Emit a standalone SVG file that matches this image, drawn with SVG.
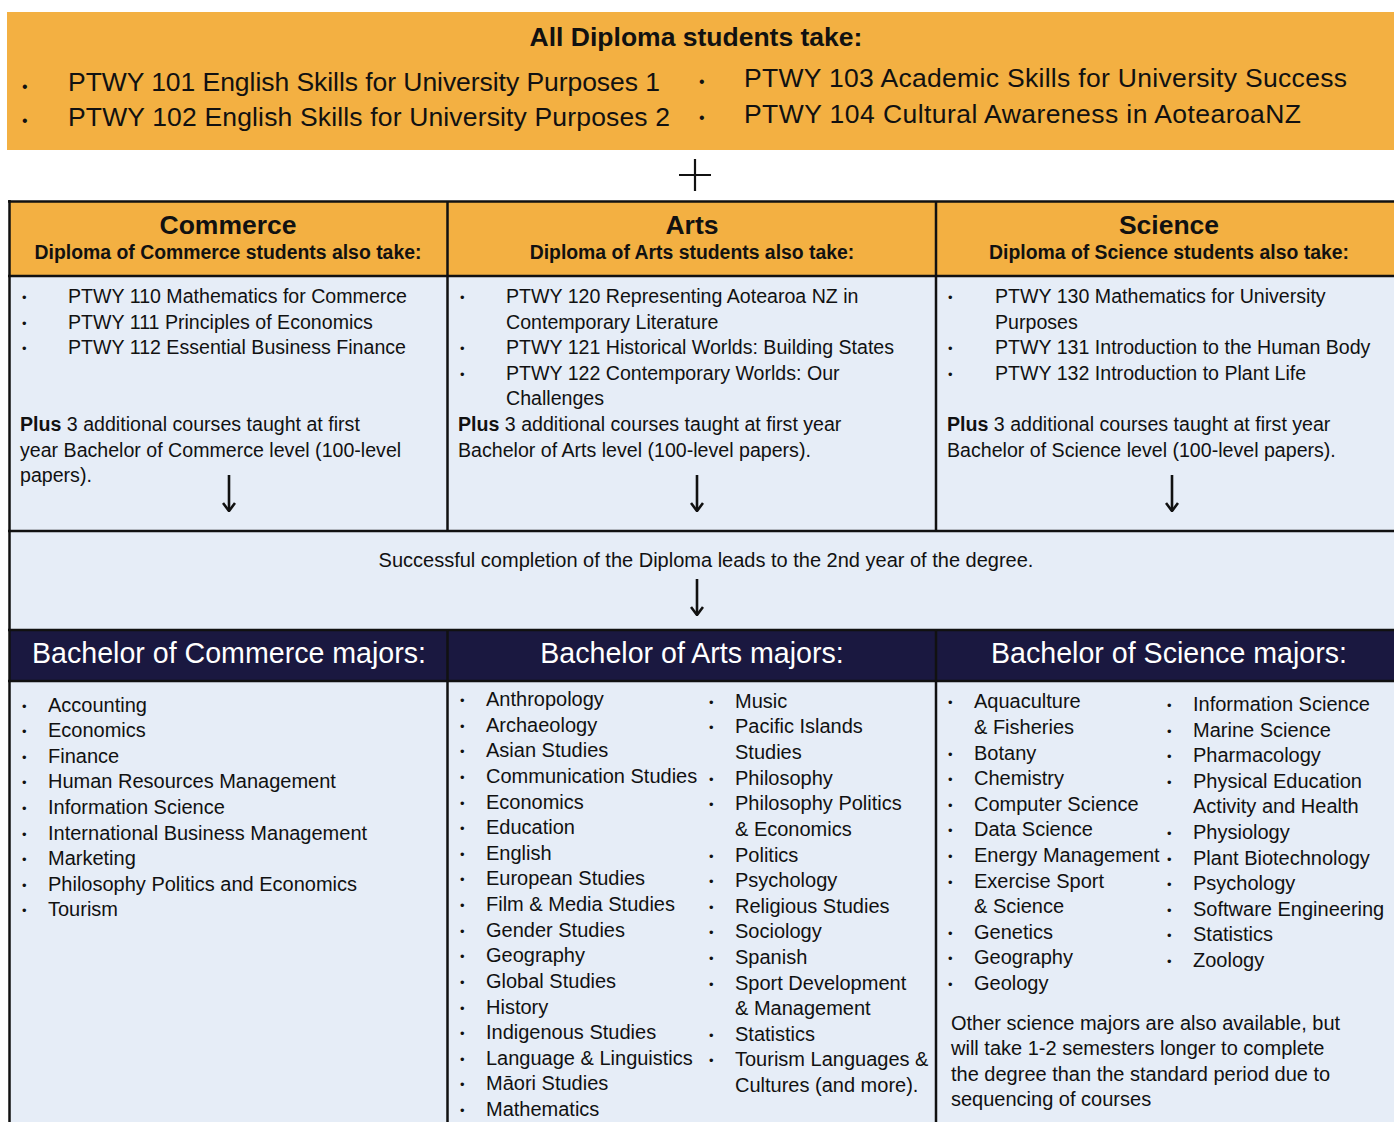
<svg xmlns="http://www.w3.org/2000/svg" width="1394" height="1122" viewBox="0 0 1394 1122">
<defs>
<style>
text{font-family:"Liberation Sans",Arial,sans-serif;fill:#111}
.banner{font-size:26.5px}
.btitle{font-size:26.5px;font-weight:bold}
.h1{font-size:26.5px;font-weight:bold;text-anchor:middle}
.h2{font-size:19.4px;font-weight:bold;text-anchor:middle}
.t{font-size:20px}
.c{font-size:19.6px}
.bul{font-size:13px}
.bbul{font-size:16px}
.maj{font-size:28.6px;fill:#fff;text-anchor:middle}
.mid{font-size:20px;text-anchor:middle}
.orange{fill:#F3B042}
.light{fill:#E6EDF7}
.navy{fill:#1A1840}
.grid{stroke:#111;stroke-width:2.5;fill:none}
.arrow{stroke:#111;stroke-width:2.6;fill:none;stroke-linecap:butt}
</style>
<marker id="ah" viewBox="0 0 10 14" refX="9" refY="7" markerWidth="10" markerHeight="14" markerUnits="userSpaceOnUse" orient="auto">
<path d="M1,1 L9,7 L1,13" fill="none" stroke="#111" stroke-width="2.6"/>
</marker>
</defs>
<rect width="1394" height="1122" fill="#fff"/>

<g id="banner">
<rect x="7" y="12" width="1387" height="138" class="orange"/>
<text x="696" y="46" class="btitle" text-anchor="middle">All Diploma students take:</text>
<text x="22" y="92" class="bbul">•</text>
<text x="68" y="91" class="banner" textLength="592">PTWY 101 English Skills for University Purposes 1</text>
<text x="22" y="126" class="bbul">•</text>
<text x="68" y="126" class="banner" textLength="602">PTWY 102 English Skills for University Purposes 2</text>
<text x="699" y="87" class="bbul">•</text>
<text x="744" y="87" class="banner" textLength="603">PTWY 103 Academic Skills for University Success</text>
<text x="699" y="123" class="bbul">•</text>
<text x="744" y="123" class="banner" textLength="557">PTWY 104 Cultural Awareness in AotearoaNZ</text>
</g>

<g id="plus">
<path d="M679,175 H711 M695,159 V191" stroke="#111" stroke-width="2.2"/>
</g>

<g id="table-bg">
<rect x="9" y="201" width="1385" height="75" class="orange"/>
<rect x="9" y="276" width="1385" height="354" class="light"/>
<rect x="9" y="630" width="1385" height="51" class="navy"/>
<rect x="9" y="681" width="1385" height="441" class="light"/>
</g>

<g id="commerce-header">
<text x="228" y="234" class="h1">Commerce</text>
<text x="228" y="259" class="h2">Diploma of Commerce students also take:</text>
</g>
<g id="arts-header">
<text x="692" y="234" class="h1">Arts</text>
<text x="692" y="259" class="h2">Diploma of Arts students also take:</text>
</g>
<g id="science-header">
<text x="1169" y="234" class="h1">Science</text>
<text x="1169" y="259" class="h2">Diploma of Science students also take:</text>
</g>

<g id="commerce-courses" class="c">
<text x="22" y="302" class="bul">•</text><text x="68" y="303">PTWY 110 Mathematics for Commerce</text>
<text x="22" y="328" class="bul">•</text><text x="68" y="329">PTWY 111 Principles of Economics</text>
<text x="22" y="353" class="bul">•</text><text x="68" y="354">PTWY 112 Essential Business Finance</text>
<text x="20" y="431"><tspan font-weight="bold">Plus</tspan> 3 additional courses taught at first</text>
<text x="20" y="457">year Bachelor of Commerce level (100-level</text>
<text x="20" y="482">papers).</text>
</g>

<g id="arts-courses" class="c">
<text x="460" y="302" class="bul">•</text><text x="506" y="303">PTWY 120 Representing Aotearoa NZ in</text>
<text x="506" y="329">Contemporary Literature</text>
<text x="460" y="353" class="bul">•</text><text x="506" y="354">PTWY 121 Historical Worlds: Building States</text>
<text x="460" y="379" class="bul">•</text><text x="506" y="380">PTWY 122 Contemporary Worlds: Our</text>
<text x="506" y="405">Challenges</text>
<text x="458" y="431"><tspan font-weight="bold">Plus</tspan> 3 additional courses taught at first year</text>
<text x="458" y="457">Bachelor of Arts level (100-level papers).</text>
</g>

<g id="science-courses" class="c">
<text x="948" y="302" class="bul">•</text><text x="995" y="303">PTWY 130 Mathematics for University</text>
<text x="995" y="329">Purposes</text>
<text x="948" y="353" class="bul">•</text><text x="995" y="354">PTWY 131 Introduction to the Human Body</text>
<text x="948" y="379" class="bul">•</text><text x="995" y="380">PTWY 132 Introduction to Plant Life</text>
<text x="947" y="431"><tspan font-weight="bold">Plus</tspan> 3 additional courses taught at first year</text>
<text x="947" y="457">Bachelor of Science level (100-level papers).</text>
</g>

<g id="completion">
<text x="706" y="567" class="mid">Successful completion of the Diploma leads to the 2nd year of the degree.</text>
</g>

<g id="commerce-majors-header"><text x="229" y="663" class="maj">Bachelor of Commerce majors:</text></g>
<g id="arts-majors-header"><text x="692" y="663" class="maj">Bachelor of Arts majors:</text></g>
<g id="science-majors-header"><text x="1169" y="663" class="maj">Bachelor of Science majors:</text></g>

<g id="commerce-majors" class="t">
<text x="22" y="711" class="bul">•</text><text x="48" y="712">Accounting</text>
<text x="22" y="736" class="bul">•</text><text x="48" y="737">Economics</text>
<text x="22" y="762" class="bul">•</text><text x="48" y="763">Finance</text>
<text x="22" y="787" class="bul">•</text><text x="48" y="788">Human Resources Management</text>
<text x="22" y="813" class="bul">•</text><text x="48" y="814">Information Science</text>
<text x="22" y="839" class="bul">•</text><text x="48" y="840">International Business Management</text>
<text x="22" y="864" class="bul">•</text><text x="48" y="865">Marketing</text>
<text x="22" y="890" class="bul">•</text><text x="48" y="891">Philosophy Politics and Economics</text>
<text x="22" y="915" class="bul">•</text><text x="48" y="916">Tourism</text>
</g>

<g id="arts-majors" class="t">
<text x="460" y="705" class="bul">•</text><text x="486" y="706">Anthropology</text>
<text x="460" y="731" class="bul">•</text><text x="486" y="732">Archaeology</text>
<text x="460" y="756" class="bul">•</text><text x="486" y="757">Asian Studies</text>
<text x="460" y="782" class="bul">•</text><text x="486" y="783">Communication Studies</text>
<text x="460" y="808" class="bul">•</text><text x="486" y="809">Economics</text>
<text x="460" y="833" class="bul">•</text><text x="486" y="834">Education</text>
<text x="460" y="859" class="bul">•</text><text x="486" y="860">English</text>
<text x="460" y="884" class="bul">•</text><text x="486" y="885">European Studies</text>
<text x="460" y="910" class="bul">•</text><text x="486" y="911">Film &amp; Media Studies</text>
<text x="460" y="936" class="bul">•</text><text x="486" y="937">Gender Studies</text>
<text x="460" y="961" class="bul">•</text><text x="486" y="962">Geography</text>
<text x="460" y="987" class="bul">•</text><text x="486" y="988">Global Studies</text>
<text x="460" y="1013" class="bul">•</text><text x="486" y="1014">History</text>
<text x="460" y="1038" class="bul">•</text><text x="486" y="1039">Indigenous Studies</text>
<text x="460" y="1064" class="bul">•</text><text x="486" y="1065">Language &amp; Linguistics</text>
<text x="460" y="1089" class="bul">•</text><text x="486" y="1090">Māori Studies</text>
<text x="460" y="1115" class="bul">•</text><text x="486" y="1116">Mathematics</text>

<text x="709" y="707" class="bul">•</text><text x="735" y="708">Music</text>
<text x="709" y="732" class="bul">•</text><text x="735" y="733">Pacific Islands</text>
<text x="735" y="759">Studies</text>
<text x="709" y="784" class="bul">•</text><text x="735" y="785">Philosophy</text>
<text x="709" y="809" class="bul">•</text><text x="735" y="810">Philosophy Politics</text>
<text x="735" y="836">&amp; Economics</text>
<text x="709" y="861" class="bul">•</text><text x="735" y="862">Politics</text>
<text x="709" y="886" class="bul">•</text><text x="735" y="887">Psychology</text>
<text x="709" y="912" class="bul">•</text><text x="735" y="913">Religious Studies</text>
<text x="709" y="937" class="bul">•</text><text x="735" y="938">Sociology</text>
<text x="709" y="963" class="bul">•</text><text x="735" y="964">Spanish</text>
<text x="709" y="989" class="bul">•</text><text x="735" y="990">Sport Development</text>
<text x="735" y="1015">&amp; Management</text>
<text x="709" y="1040" class="bul">•</text><text x="735" y="1041">Statistics</text>
<text x="709" y="1065" class="bul">•</text><text x="735" y="1066">Tourism Languages &amp;</text>
<text x="735" y="1092">Cultures (and more).</text>
</g>

<g id="science-majors" class="t">
<text x="948" y="707" class="bul">•</text><text x="974" y="708">Aquaculture</text>
<text x="974" y="734">&amp; Fisheries</text>
<text x="948" y="759" class="bul">•</text><text x="974" y="760">Botany</text>
<text x="948" y="784" class="bul">•</text><text x="974" y="785">Chemistry</text>
<text x="948" y="810" class="bul">•</text><text x="974" y="811">Computer Science</text>
<text x="948" y="835" class="bul">•</text><text x="974" y="836">Data Science</text>
<text x="948" y="861" class="bul">•</text><text x="974" y="862">Energy Management</text>
<text x="948" y="887" class="bul">•</text><text x="974" y="888">Exercise Sport</text>
<text x="974" y="913">&amp; Science</text>
<text x="948" y="938" class="bul">•</text><text x="974" y="939">Genetics</text>
<text x="948" y="963" class="bul">•</text><text x="974" y="964">Geography</text>
<text x="948" y="989" class="bul">•</text><text x="974" y="990">Geology</text>

<text x="1167" y="710" class="bul">•</text><text x="1193" y="711">Information Science</text>
<text x="1167" y="736" class="bul">•</text><text x="1193" y="737">Marine Science</text>
<text x="1167" y="761" class="bul">•</text><text x="1193" y="762">Pharmacology</text>
<text x="1167" y="787" class="bul">•</text><text x="1193" y="788">Physical Education</text>
<text x="1193" y="813">Activity and Health</text>
<text x="1167" y="838" class="bul">•</text><text x="1193" y="839">Physiology</text>
<text x="1167" y="864" class="bul">•</text><text x="1193" y="865">Plant Biotechnology</text>
<text x="1167" y="889" class="bul">•</text><text x="1193" y="890">Psychology</text>
<text x="1167" y="915" class="bul">•</text><text x="1193" y="916">Software Engineering</text>
<text x="1167" y="940" class="bul">•</text><text x="1193" y="941">Statistics</text>
<text x="1167" y="966" class="bul">•</text><text x="1193" y="967">Zoology</text>

<text x="951" y="1030">Other science majors are also available, but</text>
<text x="951" y="1055">will take 1-2 semesters longer to complete</text>
<text x="951" y="1081">the degree than the standard period due to</text>
<text x="951" y="1106">sequencing of courses</text>
</g>

<g id="grid">
<path class="grid" d="M8,201.5 H1394 M8,276 H1394 M8,531 H1394 M8,630 H1394 M8,681 H1394"/>
<path class="grid" d="M9.5,200 V1122 M447.5,201 V531 M447.5,630 V1122 M936,201 V531 M936,630 V1122"/>
</g>

<g id="connectors">
<path class="arrow" d="M229,475 V511" marker-end="url(#ah)"/>
<path class="arrow" d="M697,475 V511" marker-end="url(#ah)"/>
<path class="arrow" d="M1172,475 V511" marker-end="url(#ah)"/>
<path class="arrow" d="M697,579 V615" marker-end="url(#ah)"/>
</g>
</svg>
